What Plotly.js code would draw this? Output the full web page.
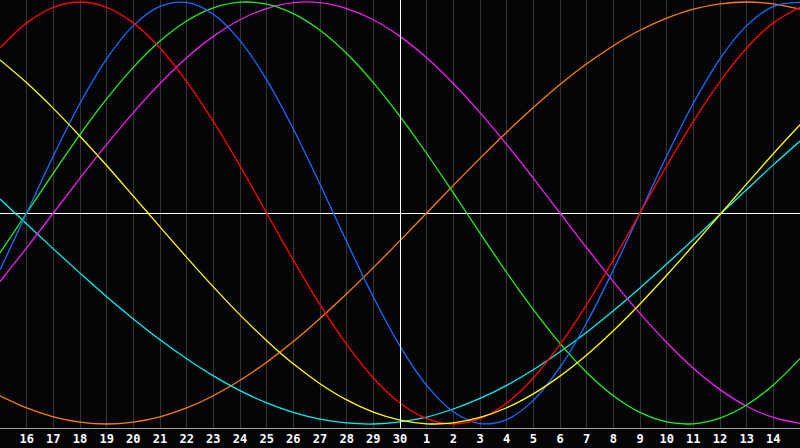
<!DOCTYPE html>
<html>
<head>
<meta charset="utf-8">
<script src="https://cdn.plot.ly/plotly-3.0.1.min.js"></script>
<style>
html,body{margin:0;padding:0;background:#050508;}
#chart{width:800px;height:448px;}
</style>
</head>
<body>
<div id="chart"></div>
<script>
// Day index 0..30 (day 15 of previous month .. day 15 of next month)
const dayIndex = [0,1,2,3,4,5,6,7,8,9,10,11,12,13,14,15,16,17,18,19,20,21,22,23,24,25,26,27,28,29,30];
const tickIndex = [1,2,3,4,5,6,7,8,9,10,11,12,13,14,15,16,17,18,19,20,21,22,23,24,25,26,27,28,29];
const tickLabels = ["16","17","18","19","20","21","22","23","24","25","26","27","28","29","30","1","2","3","4","5","6","7","8","9","10","11","12","13","14"];

// Curve values (-1 .. 1)
const blueSeries = [-0.270,0,0.270,0.520,0.731,0.888,0.979,0.998,0.942,0.817,0.631,0.398,0.136,-0.136,-0.398,-0.631,-0.817,-0.942,-0.998,-0.979,-0.888,-0.731,-0.520,-0.270,0,0.270,0.520,0.731,0.888,0.979,0.998];
const redSeries = [0.782,0.901,0.975,1,0.975,0.901,0.782,0.623,0.434,0.223,0,-0.223,-0.434,-0.623,-0.782,-0.901,-0.975,-1,-0.975,-0.901,-0.782,-0.623,-0.434,-0.223,0,0.223,0.434,0.623,0.782,0.901,0.975];
const greenSeries = [-0.189,0,0.189,0.372,0.541,0.690,0.815,0.910,0.972,0.999,0.990,0.945,0.866,0.756,0.618,0.458,0.282,0.095,-0.095,-0.282,-0.458,-0.618,-0.756,-0.866,-0.945,-0.990,-0.999,-0.972,-0.910,-0.815,-0.690];
const magentaSeries = [-0.325,-0.165,0,0.165,0.325,0.476,0.614,0.736,0.837,0.916,0.969,0.997,0.997,0.969,0.916,0.837,0.736,0.614,0.476,0.325,0.165,0,-0.165,-0.325,-0.476,-0.614,-0.736,-0.837,-0.916,-0.969,-0.997];
const orangeSeries = [-0.866,-0.924,-0.966,-0.991,-1,-0.991,-0.966,-0.924,-0.866,-0.793,-0.707,-0.609,-0.5,-0.383,-0.259,-0.131,0,0.131,0.259,0.383,0.5,0.609,0.707,0.793,0.866,0.924,0.966,0.991,1,0.991,0.966];
const yellowSeries = [0.725,0.617,0.496,0.364,0.225,0.080,-0.066,-0.210,-0.350,-0.483,-0.605,-0.715,-0.809,-0.886,-0.944,-0.982,-0.999,-0.995,-0.969,-0.923,-0.857,-0.773,-0.673,-0.558,-0.431,-0.295,-0.153,-0.007,0.138,0.281,0.418];
const cyanSeries = [0.066,-0.052,-0.170,-0.285,-0.397,-0.502,-0.601,-0.691,-0.772,-0.842,-0.900,-0.945,-0.977,-0.995,-1.000,-0.990,-0.967,-0.929,-0.879,-0.817,-0.743,-0.658,-0.565,-0.463,-0.355,-0.242,-0.126,-0.007,0.111,0.228,0.341];

const todayIndex = 15;
const halfPixel = 0.5 * 30 / 800; // keeps the 1px today line on a whole pixel

const seriesList = [
  {y: orangeSeries, color: '#ff8000'},
  {y: cyanSeries, color: '#00f0f0'},
  {y: magentaSeries, color: '#f020f0'},
  {y: greenSeries, color: '#20f020'},
  {y: blueSeries, color: '#1a6cff'},
  {y: redSeries, color: '#ff0000'},
  {y: yellowSeries, color: '#ffff00'}
];

const traces = seriesList.map(s => ({
  x: dayIndex, y: s.y, type: 'scatter', mode: 'lines',
  line: {color: s.color, width: 1.3, shape: 'spline', smoothing: 1},
  hoverinfo: 'skip', showlegend: false
}));

const layout = {
  width: 800, height: 448,
  margin: {l: 0, r: 0, t: 0, b: 20, pad: 0},
  paper_bgcolor: '#050508',
  plot_bgcolor: '#050508',
  showlegend: false,
  xaxis: {
    range: [0, 30], fixedrange: true,
    tickmode: 'array', tickvals: tickIndex, ticktext: tickLabels,
    ticks: '', showgrid: true, gridcolor: '#363636', gridwidth: 1,
    zeroline: false,
    showline: true, linecolor: '#a0a0a0', linewidth: 1, mirror: true,
    tickfont: {family: 'DejaVu Sans Mono, monospace', size: 12, color: '#ffffff', weight: 'bold'}
  },
  yaxis: {
    range: [-1.019, 1.0095], fixedrange: true,
    showticklabels: false, ticks: '', showgrid: false,
    zeroline: true, zerolinecolor: '#ffffff', zerolinewidth: 1,
    showline: true, linecolor: '#a0a0a0', linewidth: 1, mirror: true
  },
  shapes: [{
    type: 'line', xref: 'x', yref: 'paper',
    x0: todayIndex + halfPixel, x1: todayIndex + halfPixel, y0: 0, y1: 1,
    line: {color: '#ffffff', width: 1}, layer: 'above'
  }]
};

Plotly.newPlot('chart', traces, layout, {displayModeBar: false, staticPlot: true});
</script>
</body>
</html>
